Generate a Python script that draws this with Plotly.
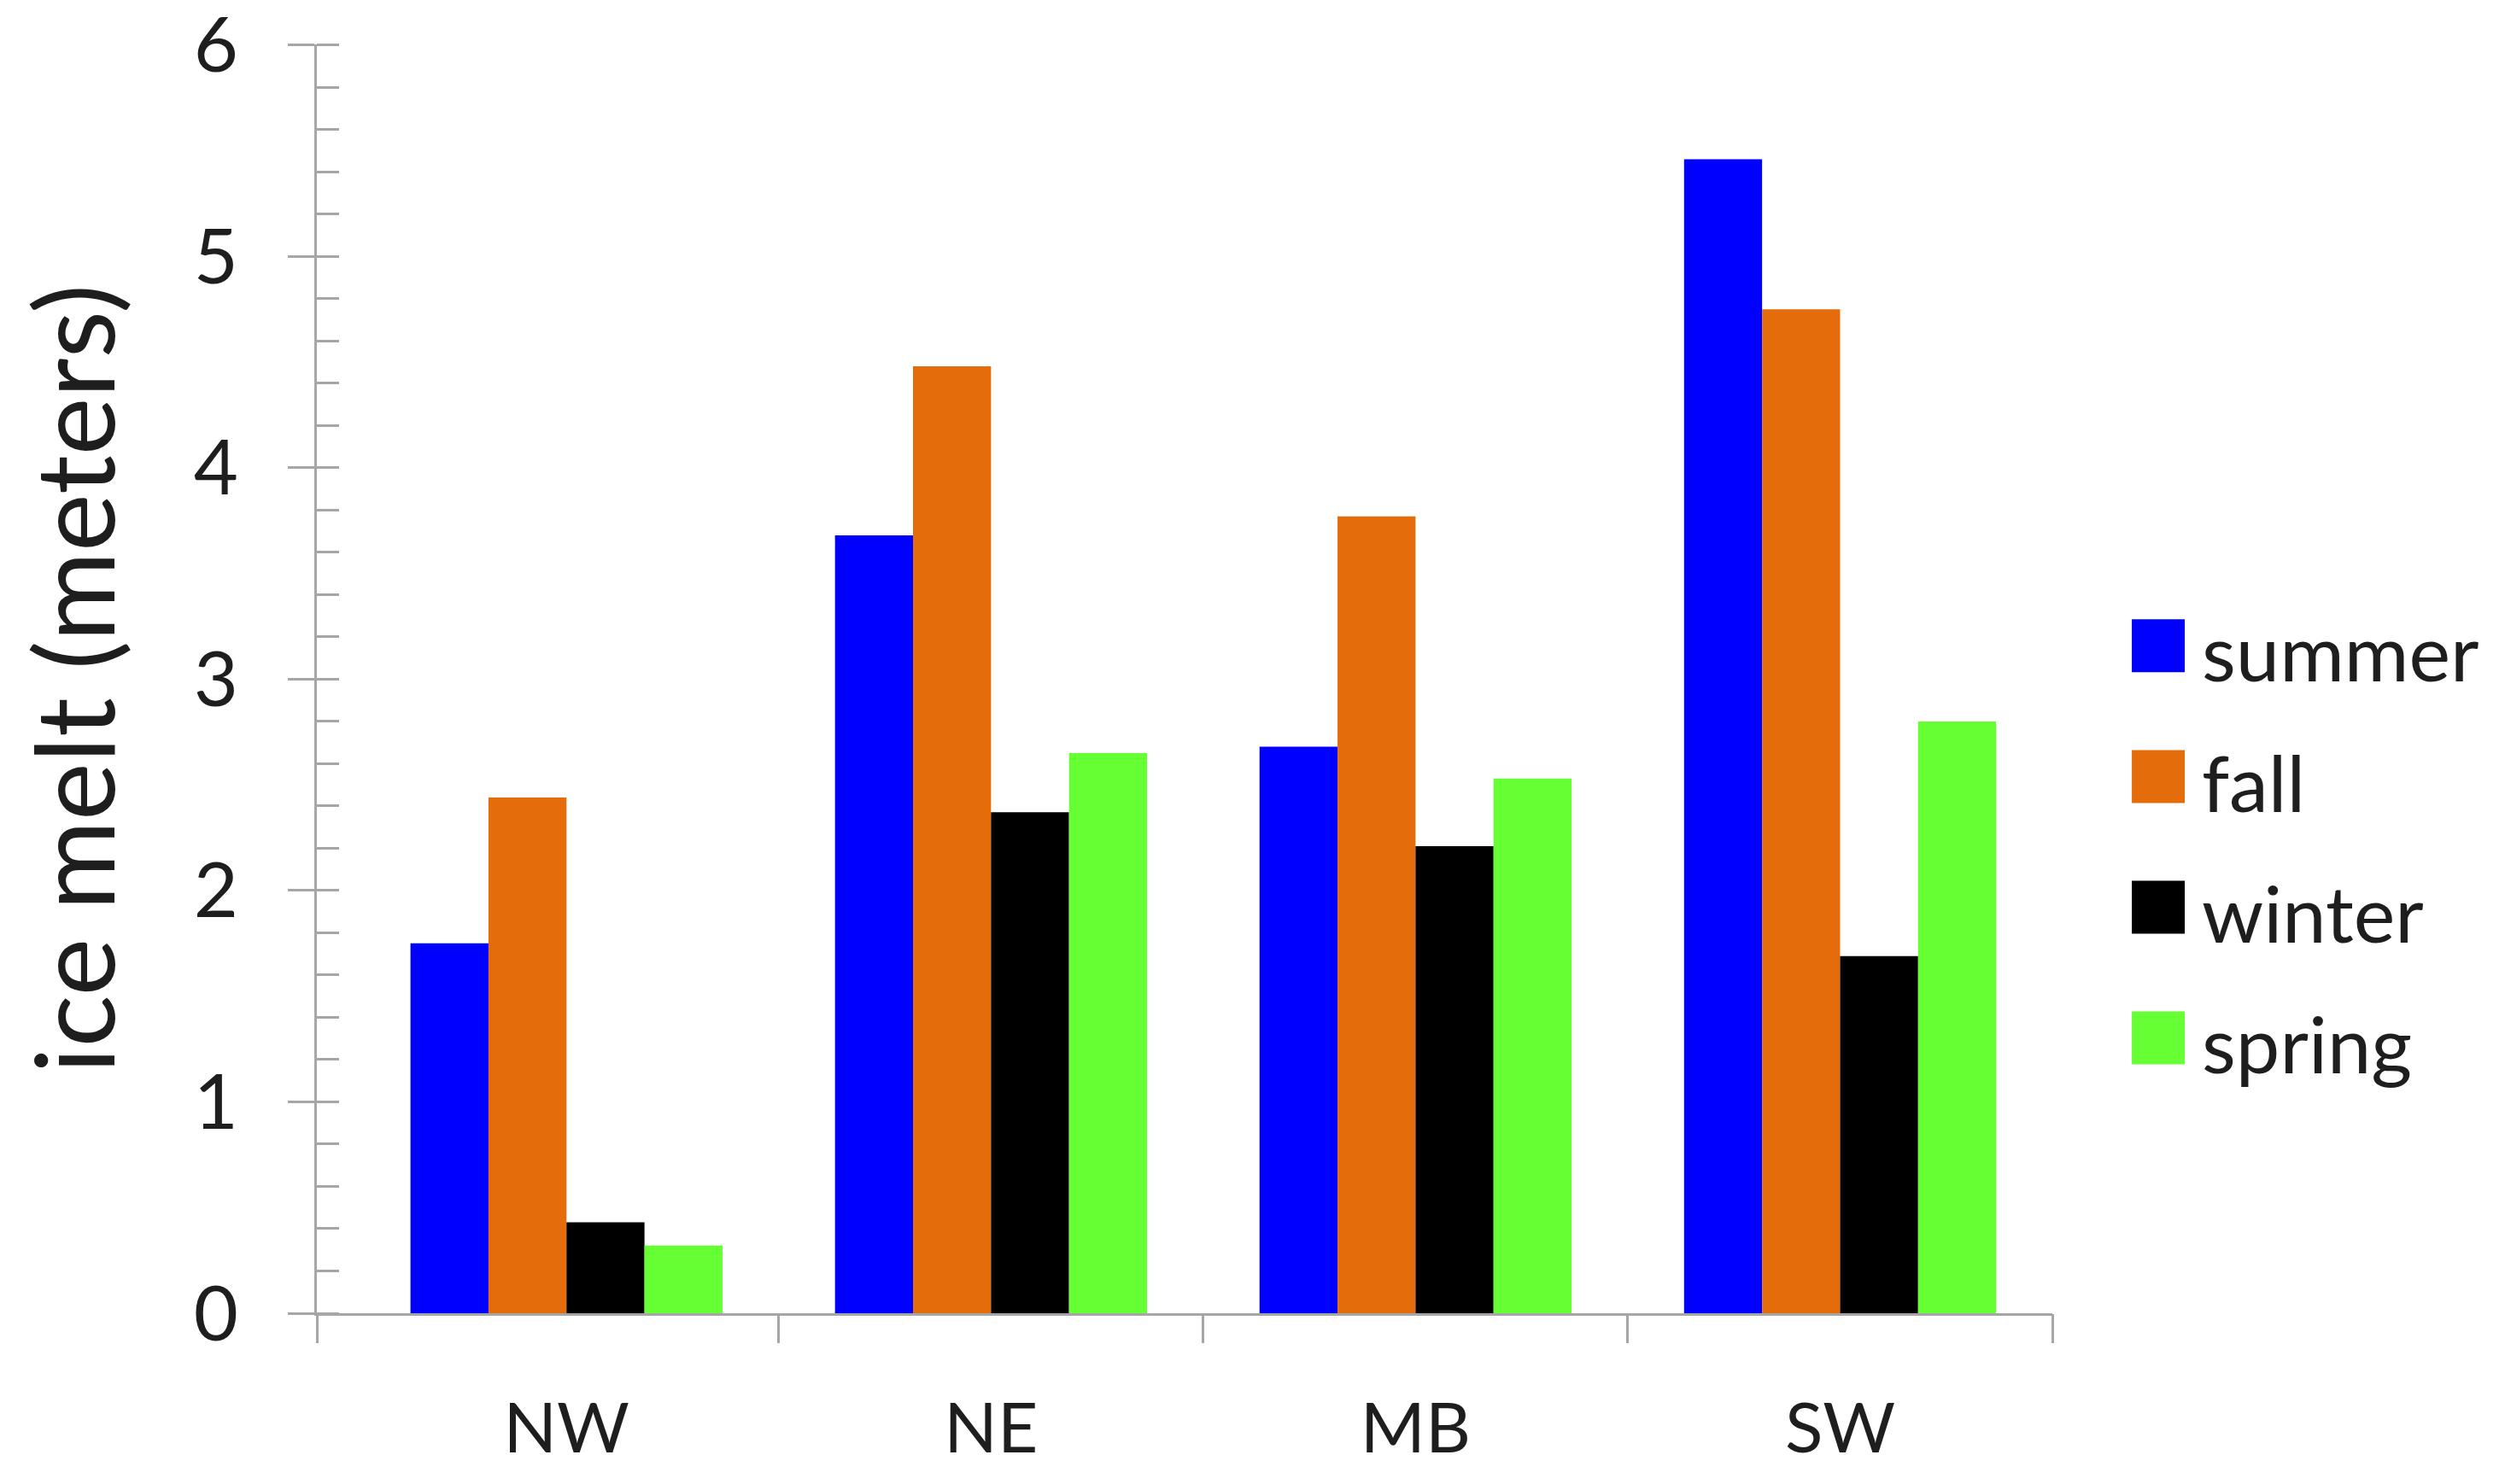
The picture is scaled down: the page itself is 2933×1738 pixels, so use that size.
import plotly.graph_objects as go

# -------------------------------------------------
# Data
# -------------------------------------------------
REGIONS = ["NW", "NE", "MB", "SW"]
SEASONS = ["summer", "fall", "winter", "spring"]
SEASON_COLORS = ["#0000FF", "#E46C0A", "#000000", "#66FF33"]

SUMMER = [1.75, 3.68, 2.68, 5.46]
FALL = [2.44, 4.48, 3.77, 4.75]
WINTER = [0.43, 2.37, 2.21, 1.69]
SPRING = [0.32, 2.65, 2.53, 2.80]

Y_TICKS = [0, 1, 2, 3, 4, 5, 6]
Y_TITLE = "ice melt (meters)"

FONT = "Lato, 'Open Sans', sans-serif"
TEXT_COLOR = "#1e1e1e"
AXIS_COLOR = "#a6a6a6"

# -------------------------------------------------
# Figure
# -------------------------------------------------
fig = go.Figure()
for name, color, values in zip(SEASONS, SEASON_COLORS, [SUMMER, FALL, WINTER, SPRING]):
    fig.add_trace(go.Bar(x=REGIONS, y=values, name=name,
                         marker=dict(color=color, line=dict(width=0)),
                         showlegend=False))

# empty trace so the helper axes (x2 / y2) get drawn
fig.add_trace(go.Scatter(x=[], y=[], xaxis="x2", yaxis="y2",
                         showlegend=False, hoverinfo="skip"))

Y_TOP = 6.003  # a hair above 6 so the top tick is kept

fig.update_layout(
    width=2933, height=1738,
    paper_bgcolor="white", plot_bgcolor="white",
    # page body adds 8px, so margins are trimmed by that much on top/left
    margin=dict(l=363, r=538, t=44, b=208),
    barmode="group", bargap=0.265, bargroupgap=0,
    font=dict(family=FONT, color=TEXT_COLOR),
    xaxis=dict(
        type="category", range=[-0.588, 3.5], automargin=False,
        showline=True, linecolor=AXIS_COLOR, linewidth=3,
        ticks="", showgrid=False, zeroline=False,
        tickfont=dict(size=82, color=TEXT_COLOR),
        ticklabelstandoff=62,
    ),
    # second x axis only carries the group-boundary ticks
    xaxis2=dict(
        overlaying="x", anchor="y", side="bottom", automargin=False,
        range=[-0.588, 3.5],
        tickvals=[-0.588, 0.5, 1.5, 2.5, 3.5],
        ticks="outside", ticklen=34, tickwidth=3, tickcolor=AXIS_COLOR,
        showticklabels=False, showline=False, showgrid=False, zeroline=False,
    ),
    yaxis=dict(
        range=[0, Y_TOP], tickvals=Y_TICKS, automargin=False,
        ticklabeloverflow="allow",
        showline=True, linecolor=AXIS_COLOR, linewidth=3,
        ticks="outside", ticklen=31, tickwidth=3, tickcolor=AXIS_COLOR,
        minor=dict(dtick=0.2, ticks="inside", ticklen=26, tickwidth=3,
                   tickcolor=AXIS_COLOR, showgrid=False),
        showgrid=False, zeroline=False,
        tickfont=dict(size=90, color=TEXT_COLOR),
        ticklabelstandoff=40,
        title=dict(text=Y_TITLE, font=dict(size=128, color=TEXT_COLOR), standoff=54),
    ),
    # second y axis draws the inner half of the major ticks
    yaxis2=dict(
        overlaying="y", anchor="x", side="left", automargin=False,
        range=[0, Y_TOP], tickvals=Y_TICKS,
        ticks="inside", ticklen=26, tickwidth=3, tickcolor=AXIS_COLOR,
        showticklabels=False, showline=False, showgrid=False, zeroline=False,
    ),
)

# -------------------------------------------------
# Legend (drawn by hand so the swatches can be large)
# -------------------------------------------------
LEG_X = 1.0458          # paper x of swatch left edge
LEG_TOP = 0.526         # paper y of first row centre
LEG_STEP = 0.1030       # paper spacing between rows
for i, (name, color) in enumerate(zip(SEASONS, SEASON_COLORS)):
    yc = LEG_TOP - i * LEG_STEP
    fig.add_shape(type="rect", xref="paper", yref="paper",
                  xsizemode="pixel", ysizemode="pixel",
                  xanchor=LEG_X, yanchor=yc,
                  x0=0, x1=62, y0=-31, y1=31,
                  fillcolor=color, line=dict(width=0))
    fig.add_annotation(text=name, xref="paper", yref="paper",
                       x=LEG_X + 0.0393, y=yc, xanchor="left", yanchor="middle",
                       yshift=-6, showarrow=False,
                       font=dict(size=92, color=TEXT_COLOR, family=FONT))

fig.write_html("out.html")
